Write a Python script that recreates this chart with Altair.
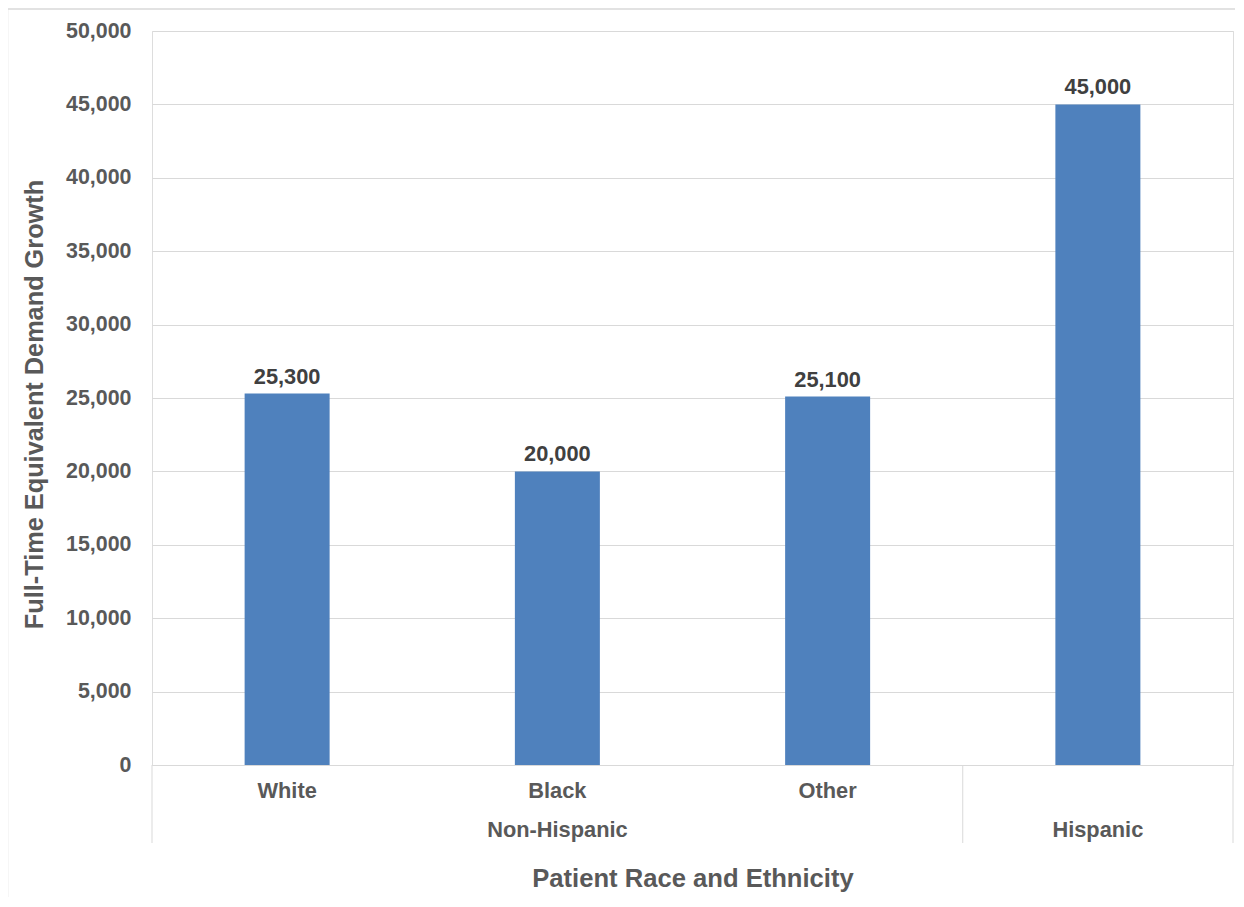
import altair as alt
import pandas as pd

categories = ["White", "Black", "Other", "Hispanic"]
sub_labels = ["White", "Black", "Other", ""]
groups = ["Non-Hispanic", "Non-Hispanic", "Non-Hispanic", "Hispanic"]
values = [25300, 20000, 25100, 45000]

group_names = ["Non-Hispanic", "Hispanic"]
group_anchor = ["Black", "Hispanic"]

divider_cats = ["White", "Hispanic", "Hispanic"]
divider_pos = [0, 0, 1]

FONT = "Liberation Sans"
W, H = 1081, 734

df = pd.DataFrame({"cat": categories, "sub": sub_labels, "group": groups, "value": values})
gdf = pd.DataFrame({"group": group_names, "cat": group_anchor})

xscale = alt.Scale(domain=categories, paddingInner=0, paddingOuter=0)
yscale = alt.Scale(domain=[0, 50000])

x_enc = alt.X("cat:N", scale=xscale, sort=categories,
              axis=alt.Axis(labels=False, ticks=False, domain=True, domainColor="#D9D9D9",
                            domainWidth=1, title="Patient Race and Ethnicity",
                            titleFont=FONT, titleFontSize=25.6, titleFontWeight="bold",
                            titleColor="#595959", titlePadding=101))

bars = alt.Chart(df).mark_bar(size=85, color="#4F81BD").encode(
    x=x_enc,
    y=alt.Y("value:Q", scale=yscale,
            axis=alt.Axis(values=list(range(0, 50001, 5000)), format=",.0f", domain=False,
                          ticks=False, tickSize=0, labelPadding=21, labelFont=FONT,
                          labelFontSize=21.4, labelFontWeight="bold", labelColor="#595959",
                          gridColor="#D9D9D9", gridWidth=1,
                          title="Full-Time Equivalent Demand Growth", titleFont=FONT,
                          titleFontSize=25.3, titleFontWeight="bold", titleColor="#595959",
                          titlePadding=18, titleY=404 - 31)),
)

labels = alt.Chart(df).mark_text(font=FONT, fontSize=21.8, fontWeight="bold", color="#404040",
                                 baseline="alphabetic", dy=-10).encode(
    x=alt.X("cat:N", scale=xscale, sort=categories),
    y=alt.Y("value:Q", scale=yscale),
    text=alt.Text("value:Q", format=",.0f"),
)

sub_text = alt.Chart(df).mark_text(font=FONT, fontSize=21.8, fontWeight="bold", color="#595959",
                                   baseline="middle").encode(
    x=alt.X("cat:N", scale=xscale, sort=categories),
    y=alt.value(H + 26),
    text="sub:N",
)

group_text = alt.Chart(gdf).mark_text(font=FONT, fontSize=21.8, fontWeight="bold", color="#595959",
                                      baseline="middle").encode(
    x=alt.X("cat:N", scale=xscale, sort=categories),
    y=alt.value(H + 65),
    text="group:N",
)

dividers = []
for c, p in zip(divider_cats, divider_pos):
    dividers.append(
        alt.Chart(pd.DataFrame({"cat": [c]})).mark_rule(color="#D9D9D9", strokeWidth=1).encode(
            x=alt.X("cat:N", scale=xscale, sort=categories, bandPosition=p),
            y=alt.value(H),
            y2=alt.value(H + 78),
        )
    )

border = alt.Chart(pd.DataFrame({"a": [0]})).mark_rect(
    fill=None, stroke="#D9D9D9", strokeWidth=1.5).encode(
    x=alt.value(-144.5), x2=alt.value(W + 200),
    y=alt.value(-22), y2=alt.value(H + 300),
)

chart = alt.layer(border, bars, labels, sub_text, group_text, *dividers).properties(
    width=W, height=H,
    autosize=alt.AutoSizeParams(type="none"),
    padding={"left": 144, "top": 23, "right": 2, "bottom": 132},
).configure_view(stroke=None).configure(background="white")

chart.save("out.html", embed_options={"renderer": "svg", "actions": False})
